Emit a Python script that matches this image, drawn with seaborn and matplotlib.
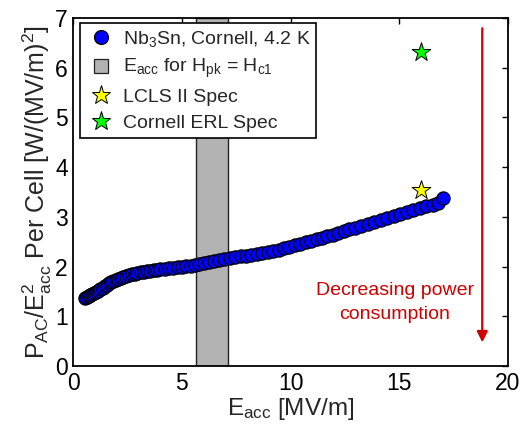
import numpy as np
import pandas as pd
import matplotlib
matplotlib.use("Agg")
import matplotlib.pyplot as plt
from matplotlib.lines import Line2D
import seaborn as sns

# Measured loss data, Nb3Sn cavity at 4.2 K
e_acc = [0.55, 0.62, 0.70, 0.78, 0.85, 0.95, 1.05, 1.15, 1.25, 1.35, 1.45, 1.55, 1.65, 1.75,
         1.85, 1.95, 2.05, 2.18, 2.30, 2.42, 2.55, 2.68, 2.82, 2.95, 3.10, 3.25, 3.40, 3.55,
         3.70, 3.85, 4.00, 4.20, 4.40, 4.60, 4.80, 5.00, 5.20, 5.40, 5.60, 5.80, 6.00, 6.25,
         6.50, 6.70, 6.95, 7.20, 7.45, 7.70, 7.95, 8.20, 8.45, 8.70, 8.95, 9.20, 9.45, 9.70,
         9.95, 10.20, 10.45, 10.70, 10.95, 11.20, 11.45, 11.70, 11.95, 12.20, 12.45, 12.70,
         12.95, 13.25, 13.55, 13.85, 14.15, 14.45, 14.75, 15.05, 15.35, 15.65, 15.95, 16.25,
         16.55, 16.80, 17.00]
p_cell = [1.37, 1.38, 1.40, 1.42, 1.44, 1.46, 1.48, 1.51, 1.54, 1.57, 1.60, 1.63, 1.66, 1.69,
          1.71, 1.73, 1.75, 1.77, 1.79, 1.81, 1.83, 1.85, 1.86, 1.87, 1.89, 1.90, 1.91, 1.92,
          1.93, 1.94, 1.95, 1.96, 1.97, 1.98, 1.99, 2.00, 2.01, 2.02, 2.03, 2.05, 2.07, 2.09,
          2.11, 2.13, 2.15, 2.17, 2.19, 2.21, 2.22, 2.24, 2.26, 2.28, 2.30, 2.32, 2.34, 2.37,
          2.40, 2.43, 2.46, 2.49, 2.52, 2.55, 2.58, 2.61, 2.64, 2.67, 2.71, 2.75, 2.78, 2.82,
          2.86, 2.90, 2.94, 2.98, 3.02, 3.06, 3.10, 3.14, 3.18, 3.21, 3.24, 3.28, 3.37]

# Eacc range where Hpk = Hc1
hc1_band = [5.67, 7.13]

# Specs
lcls_spec = (16.0, 3.55)
erl_spec = (16.0, 6.32)

df = pd.DataFrame({"Eacc": e_acc, "P": p_cell})

sns.set_style("white")
plt.rcParams["font.family"] = ["Liberation Sans", "DejaVu Sans"]
plt.rcParams["mathtext.default"] = "regular"

fig = plt.figure(figsize=(5.29, 4.29), dpi=100)
ax = fig.add_axes([0.1386, 0.1469, 0.8211, 0.8111])

ax.axvspan(hc1_band[0], hc1_band[1], facecolor="#b3b3b3", edgecolor="#222222", lw=1.0, zorder=1)

sns.scatterplot(data=df, x="Eacc", y="P", ax=ax, color="#0000ff", edgecolor="black",
                linewidth=0.9, s=90, zorder=3, legend=False)
ax.scatter([lcls_spec[0]], [lcls_spec[1]], marker="*", s=200, color="#ffff00",
           edgecolor="black", linewidth=0.7, zorder=4)
ax.scatter([erl_spec[0]], [erl_spec[1]], marker="*", s=200, color="#00ff00",
           edgecolor="black", linewidth=0.7, zorder=4)

red = "#d00000"
ax.annotate("", xy=(18.83, 0.42), xytext=(18.83, 6.85),
            arrowprops=dict(arrowstyle="-|>", color=red, lw=1.6, mutation_scale=16))
ax.text(14.8, 1.28, "Decreasing power\nconsumption", color=red, fontsize=14,
        ha="center", va="center", linespacing=1.55)

ax.set_xlim(0, 20)
ax.set_ylim(0, 7)
ax.set_xticks([0, 5, 10, 15, 20])
ax.set_yticks(range(8))
ax.tick_params(direction="in", top=True, right=True, length=4, width=1,
               labelsize=16.5, pad=4, colors="black")
for sp in ax.spines.values():
    sp.set_linewidth(1.3)
    sp.set_color("black")

ax.set_xlabel("E$_{acc}$ [MV/m]", fontsize=17.5, labelpad=1)
ax.set_ylabel("P$_{AC}$/E$^2_{acc}$ Per Cell [W/(MV/m)$^2$]", fontsize=18, labelpad=1)

handles = [
    Line2D([], [], ls="", marker="o", ms=10, mfc="#0000ff", mec="black", mew=0.9),
    Line2D([], [], ls="", marker="s", ms=10, mfc="#b3b3b3", mec="#222222", mew=0.9),
    Line2D([], [], ls="", marker="*", ms=14, mfc="#ffff00", mec="black", mew=0.7),
    Line2D([], [], ls="", marker="*", ms=14, mfc="#00ff00", mec="black", mew=0.7),
]
labels = ["Nb$_3$Sn, Cornell, 4.2 K", "E$_{acc}$ for H$_{pk}$ = H$_{c1}$",
          "LCLS II Spec", "Cornell ERL Spec"]
leg = ax.legend(handles, labels, loc="upper left", bbox_to_anchor=(0.015, 0.985),
                fontsize=14, frameon=True, fancybox=False, edgecolor="black",
                framealpha=1, handlelength=1.6, handletextpad=0.3, labelspacing=0.42,
                borderpad=0.3, borderaxespad=0)
leg.get_frame().set_linewidth(1.2)

fig.savefig("out.png", dpi=100)
